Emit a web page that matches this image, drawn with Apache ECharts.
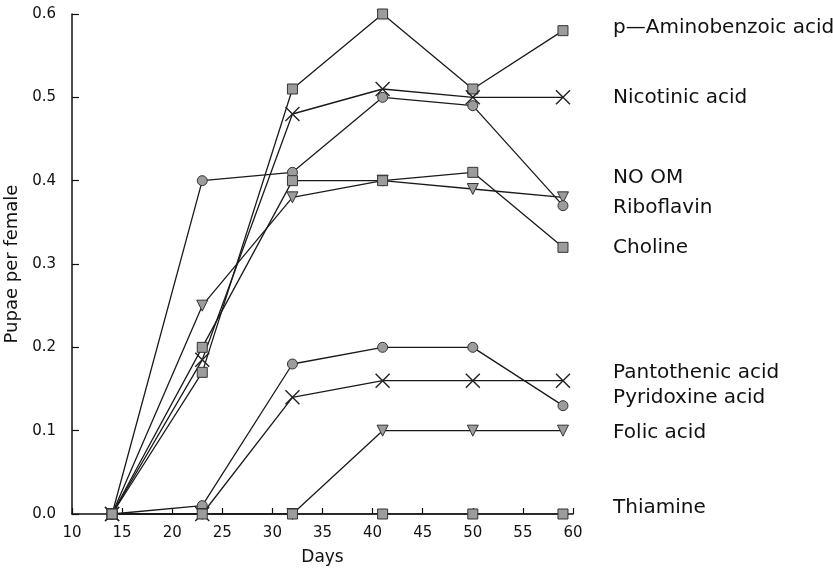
<!DOCTYPE html>
<html>
<head>
<meta charset="utf-8">
<script src="https://cdn.jsdelivr.net/npm/echarts@6/dist/echarts.min.js"></script>
<style>
  html, body { margin: 0; padding: 0; background: #fff; overflow: hidden; }
  #chart { width: 833px; height: 568px; }
</style>
</head>
<body>
<div id="chart"></div>
<script>
// ---- data ----
const days = [14, 23, 32, 41, 50, 59];
const pAminobenzoic = [0, 0.17, 0.51, 0.60, 0.51, 0.58];
const nicotinic     = [0, 0.185, 0.48, 0.51, 0.50, 0.50];
const noOM          = [0, 0.25, 0.38, 0.40, 0.39, 0.38];
const riboflavin    = [0, 0.40, 0.41, 0.50, 0.49, 0.37];
const choline       = [0, 0.20, 0.40, 0.40, 0.41, 0.32];
const pantothenic   = [0, 0.01, 0.18, 0.20, 0.20, 0.13];
const pyridoxine    = [0, 0, 0.14, 0.16, 0.16, 0.16];
const folic         = [0, 0, 0, 0.10, 0.10, 0.10];
const thiamine      = [0, 0, 0, 0, 0, 0];

const labelNames  = ['p\u2014Aminobenzoic acid', 'Nicotinic acid', 'NO OM', 'Riboflavin', 'Choline',
                     'Pantothenic acid', 'Pyridoxine acid', 'Folic acid', 'Thiamine'];
const labelValues = [0.583, 0.50, 0.403, 0.367, 0.319, 0.169, 0.139, 0.097, 0.007];
const labelDay = 64;

const xTicks = [10, 60, 5];
const yTicks = [0, 0.6, 0.1];

// ---- styles ----
const FONT = 'DejaVu Sans';
const LINE = '#1a1a1a';
const FILL = '#9c9c9c';
const EDGE = '#333';
const X_PATH = 'path://M0,0L10,10M10,0L0,10';

const symbols = {
  square:   { symbol: 'rect', symbolSize: 10, symbolRotate: 0 },
  circle:   { symbol: 'circle', symbolSize: 10, symbolRotate: 0 },
  triangle: { symbol: 'triangle', symbolSize: 11, symbolRotate: 180 },
  cross:    { symbol: X_PATH, symbolSize: 14, symbolRotate: 0 }
};

function mk(name, values, kind) {
  const s = symbols[kind];
  const isX = kind === 'cross';
  return {
    name: name,
    type: 'line',
    data: days.map((d, i) => [d, values[i]]),
    symbol: s.symbol,
    symbolSize: s.symbolSize,
    symbolRotate: s.symbolRotate,
    showAllSymbol: true,
    lineStyle: { color: LINE, width: 1.3 },
    itemStyle: isX
      ? { color: 'rgba(0,0,0,0)', borderColor: '#222', borderWidth: 1.4 }
      : { color: FILL, borderColor: EDGE, borderWidth: 1 },
    emphasis: { disabled: true },
    z: 2
  };
}

const chart = echarts.init(document.getElementById('chart'), null, { renderer: 'canvas' });

const axisText = { color: '#111', fontFamily: FONT, fontSize: 15 };

chart.setOption({
  animation: false,
  backgroundColor: '#fff',
  grid: { left: 72, top: 14, right: 260, bottom: 54, containLabel: false, outerBoundsMode: 'none' },
  xAxis: {
    type: 'value',
    min: xTicks[0], max: xTicks[1], interval: xTicks[2],
    name: 'Days',
    nameLocation: 'middle',
    nameGap: 35,
    nameTextStyle: { color: '#111', fontFamily: FONT, fontSize: 17 },
    axisLine: { show: true, onZero: false, lineStyle: { color: '#111', width: 1.5 } },
    axisTick: { show: true, inside: true, length: 6, lineStyle: { color: '#111', width: 1.2 } },
    axisLabel: Object.assign({ margin: 12 }, axisText),
    splitLine: { show: false }
  },
  yAxis: {
    type: 'value',
    min: yTicks[0], max: yTicks[1], interval: yTicks[2],
    name: 'Pupae per female',
    nameLocation: 'middle',
    nameGap: 45,
    nameTextStyle: { color: '#111', fontFamily: FONT, fontSize: 18 },
    axisLine: { show: true, onZero: false, lineStyle: { color: '#111', width: 1.5 } },
    axisTick: { show: true, inside: true, length: 7, lineStyle: { color: '#111', width: 1.2 } },
    axisLabel: Object.assign({ margin: 16, formatter: v => v.toFixed(1) }, axisText),
    splitLine: { show: false }
  },
  series: [
    mk('p-Aminobenzoic acid', pAminobenzoic, 'square'),
    mk('Nicotinic acid', nicotinic, 'cross'),
    mk('NO OM', noOM, 'triangle'),
    mk('Riboflavin', riboflavin, 'circle'),
    mk('Choline', choline, 'square'),
    mk('Pantothenic acid', pantothenic, 'circle'),
    mk('Pyridoxine acid', pyridoxine, 'cross'),
    mk('Folic acid', folic, 'triangle'),
    mk('Thiamine', thiamine, 'square')
  ]
});

// right-hand labels positioned through the axes' scales
const texts = labelNames.map((n, i) => {
  const p = chart.convertToPixel({ gridIndex: 0 }, [labelDay, labelValues[i]]);
  return {
    type: 'text',
    x: p[0], y: p[1],
    style: {
      text: n,
      fill: '#111',
      font: '20px "' + FONT + '"',
      textAlign: 'left',
      textVerticalAlign: 'middle'
    },
    z: 10
  };
});
chart.setOption({ graphic: texts });
</script>
</body>
</html>
